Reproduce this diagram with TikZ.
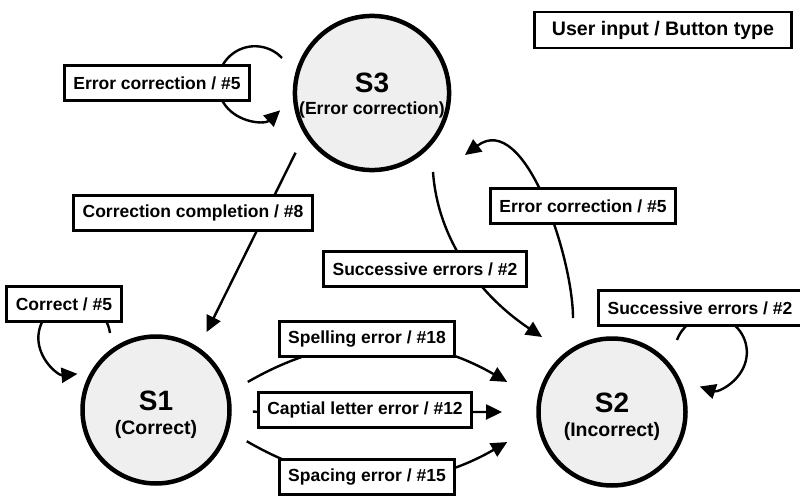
\documentclass[tikz,border=0pt]{standalone}
\usepackage{fontspec}
\setmainfont{Liberation Sans}
\usetikzlibrary{arrows.meta}
\definecolor{circfill}{RGB}{239,239,239}
\begin{document}
\begin{tikzpicture}[x=1pt,y=1pt,
  state/.style={circle, draw, line width=4.5pt, fill=circfill, minimum size=147pt, inner sep=0pt, align=center},
  lbl/.style={draw, line width=2.8pt, fill=white, font=\bfseries\fontsize{17.5}{20}\selectfont, inner xsep=9pt, minimum height=35pt},
  conn/.style={line width=2.4pt, -{Triangle[length=16pt,width=15pt]}}
]
\useasboundingbox (0,0) rectangle (800,-500);

% states
\node[state, font=\bfseries\fontsize{17.6}{22}\selectfont] (S3) at (372,-93) {\rule{0pt}{25pt}{\fontsize{28}{22}\selectfont S3}\\(Error correction)};
\node[state, font=\bfseries\fontsize{19.5}{24}\selectfont] (S1) at (156,-410) {\rule{0pt}{30pt}{\fontsize{28}{24}\selectfont S1}\\(Correct)};
\node[state, font=\bfseries\fontsize{19.5}{24}\selectfont] (S2) at (612,-412) {\rule{0pt}{30pt}{\fontsize{28}{24}\selectfont S2}\\(Incorrect)};

% connectors
\draw[conn] ([shift={(-90,35)}]S3.center) arc[start angle=43, end angle=313, radius=37];
\draw[conn] ([shift={(218:97)}]S3.center) -- ([shift={(57:93)}]S1.center);
\draw[conn] ([shift={(61,-79)}]S3.center) .. controls +(5,-70) and +(-60,40) .. ([shift={(-70,75)}]S2.center);
\draw[conn] ([shift={(-39,94)}]S2.center) .. controls +(0,60) and +(60,45) .. ([shift={(93,-62)}]S3.center);
\draw[conn] ([shift={(65,72)}]S2.center) arc[start angle=160, end angle=-108, radius=36];
\draw[conn] ([shift={(-46,77)}]S1.center) arc[start angle=8, end angle=275, radius=36];
\draw[conn] ([shift={(17:96)}]S1.center) to[bend left=30] ([shift={(164:109)}]S2.center);
\draw[conn] ([shift={(-1:97)}]S1.center) -- ([shift={(180:110)}]S2.center);
\draw[conn] ([shift={(-19:96)}]S1.center) to[bend right=30] ([shift={(196:109)}]S2.center);

% labels
\node[lbl, minimum width=257pt, minimum height=36pt, font=\bfseries\fontsize{19.6}{22}\selectfont] (legend) at (663,-30) {User input / Button type};
\node[lbl] (L3) at (157,-83) {Error correction / \#5};
\node[lbl] (Lcc) at (193,-213) {Correction completion / \#8};
\node[lbl] (Lse) at (425,-269) {Successive errors / \#2};
\node[lbl] (Lec) at (583,-206) {Error correction / \#5};
\node[lbl] (Lse2) at (700,-308) {Successive errors / \#2};
\node[lbl] (Lc) at (64,-304) {Correct / \#5};
\node[lbl] (Lsp) at (367,-339) {Spelling error / \#18};
\node[lbl] (Lcap) at (365,-410) {Captial letter error / \#12};
\node[lbl] (Lspc) at (367,-477) {Spacing error / \#15};
\end{tikzpicture}
\end{document}
